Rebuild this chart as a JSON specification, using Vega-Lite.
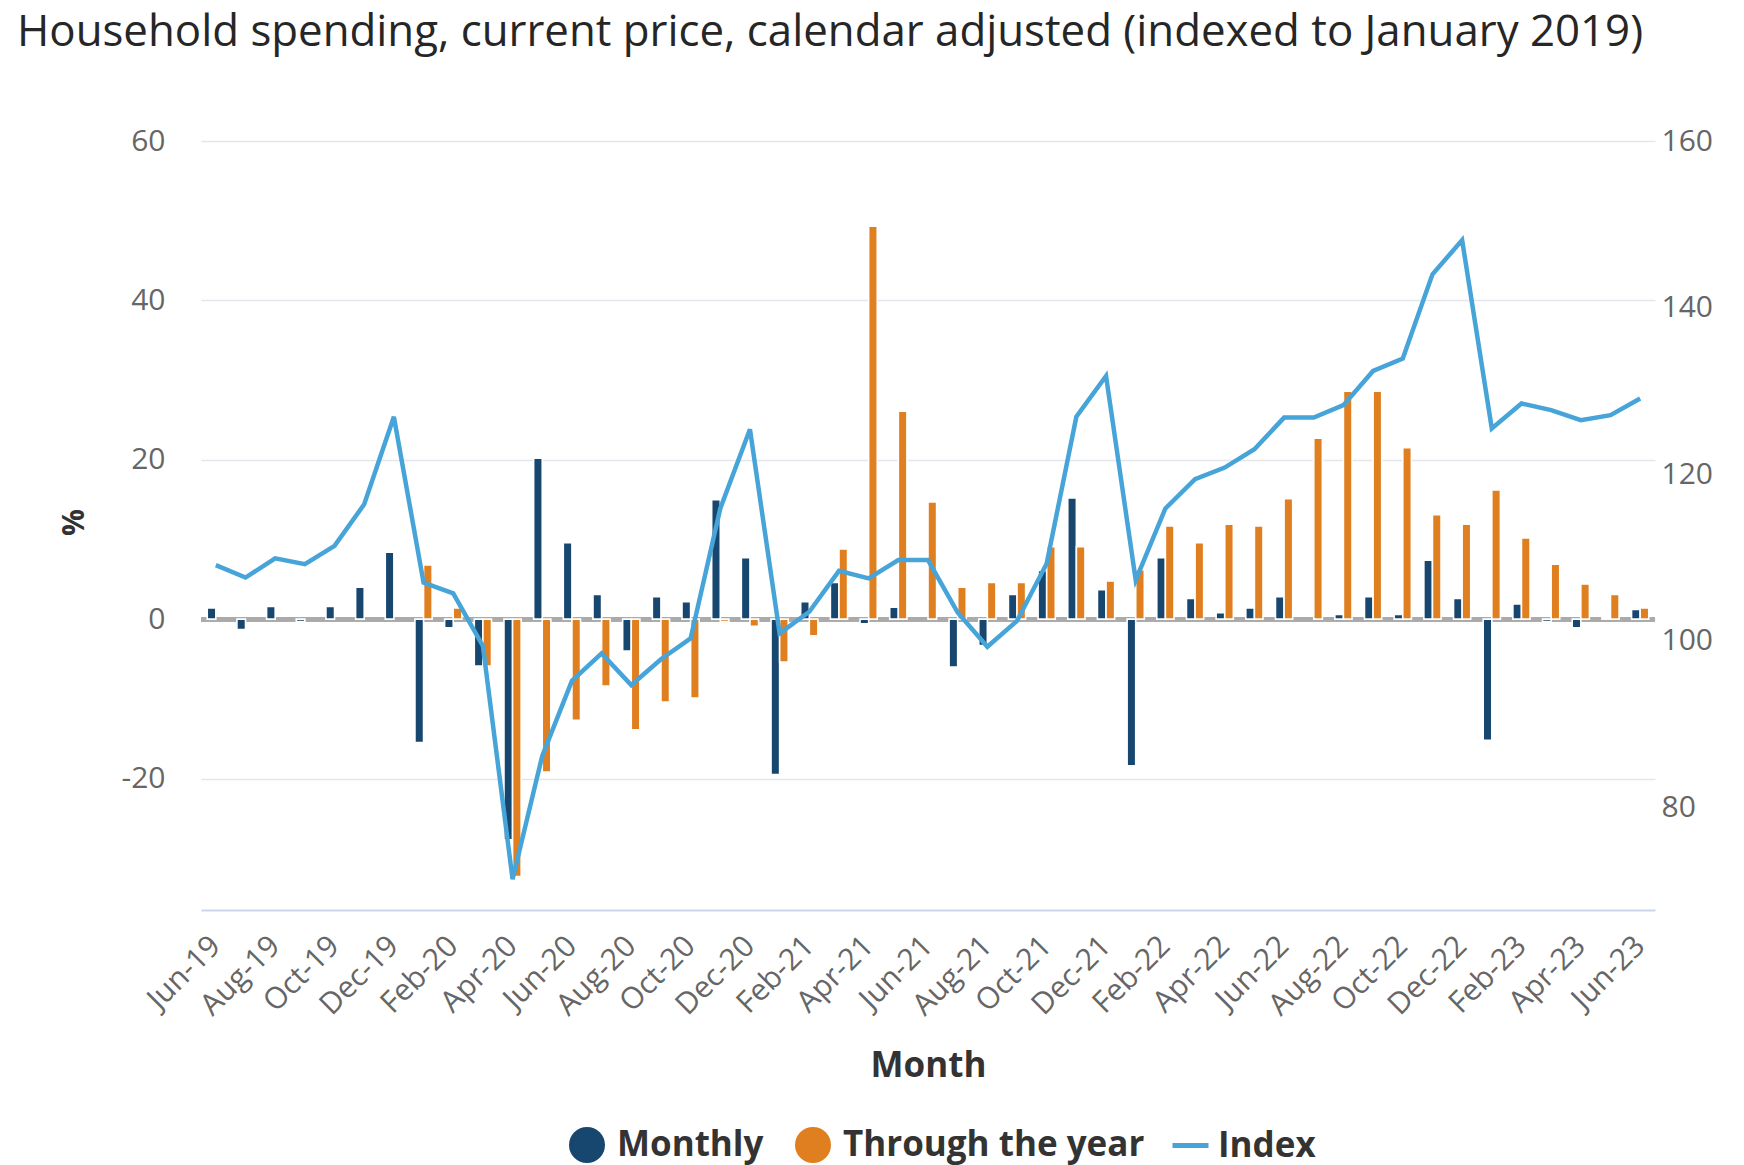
{
  "$schema": "https://vega.github.io/schema/vega-lite/v6.json",
  "autosize": {"type": "none"},
  "padding": {"left": 201, "top": 141, "right": 89, "bottom": 255},
  "width": 1454,
  "height": 769,
  "background": "white",
  "config": {"font": "Open Sans", "view": {"stroke": null}},
  "title": {
    "text": "Household spending, current price, calendar adjusted (indexed to January 2019)",
    "anchor": "start",
    "frame": "group",
    "dx": -184,
    "offset": 71,
    "font": "Open Sans",
    "fontSize": 43.8,
    "fontWeight": "normal",
    "color": "#262626"
  },
  "datasets": {
    "bars": [
      {"month": "Jun-19", "series": "Monthly", "value": 1.4},
      {"month": "Jul-19", "series": "Monthly", "value": -1.3},
      {"month": "Aug-19", "series": "Monthly", "value": 1.6},
      {"month": "Sep-19", "series": "Monthly", "value": -0.3},
      {"month": "Oct-19", "series": "Monthly", "value": 1.6},
      {"month": "Nov-19", "series": "Monthly", "value": 4.0},
      {"month": "Dec-19", "series": "Monthly", "value": 8.4},
      {"month": "Jan-20", "series": "Monthly", "value": -15.5},
      {"month": "Feb-20", "series": "Monthly", "value": -1.1},
      {"month": "Mar-20", "series": "Monthly", "value": -5.9},
      {"month": "Apr-20", "series": "Monthly", "value": -27.7},
      {"month": "May-20", "series": "Monthly", "value": 20.2},
      {"month": "Jun-20", "series": "Monthly", "value": 9.6},
      {"month": "Jul-20", "series": "Monthly", "value": 3.1},
      {"month": "Aug-20", "series": "Monthly", "value": -4.0},
      {"month": "Sep-20", "series": "Monthly", "value": 2.8},
      {"month": "Oct-20", "series": "Monthly", "value": 2.2},
      {"month": "Nov-20", "series": "Monthly", "value": 15.0},
      {"month": "Dec-20", "series": "Monthly", "value": 7.7},
      {"month": "Jan-21", "series": "Monthly", "value": -19.5},
      {"month": "Feb-21", "series": "Monthly", "value": 2.2},
      {"month": "Mar-21", "series": "Monthly", "value": 4.6},
      {"month": "Apr-21", "series": "Monthly", "value": -0.6},
      {"month": "May-21", "series": "Monthly", "value": 1.5},
      {"month": "Jul-21", "series": "Monthly", "value": -6.0},
      {"month": "Aug-21", "series": "Monthly", "value": -3.3},
      {"month": "Sep-21", "series": "Monthly", "value": 3.1},
      {"month": "Oct-21", "series": "Monthly", "value": 6.1},
      {"month": "Nov-21", "series": "Monthly", "value": 15.2},
      {"month": "Dec-21", "series": "Monthly", "value": 3.7},
      {"month": "Jan-22", "series": "Monthly", "value": -18.4},
      {"month": "Feb-22", "series": "Monthly", "value": 7.7},
      {"month": "Mar-22", "series": "Monthly", "value": 2.6},
      {"month": "Apr-22", "series": "Monthly", "value": 0.8},
      {"month": "May-22", "series": "Monthly", "value": 1.4},
      {"month": "Jun-22", "series": "Monthly", "value": 2.8},
      {"month": "Aug-22", "series": "Monthly", "value": 0.6},
      {"month": "Sep-22", "series": "Monthly", "value": 2.8},
      {"month": "Oct-22", "series": "Monthly", "value": 0.6},
      {"month": "Nov-22", "series": "Monthly", "value": 7.4},
      {"month": "Dec-22", "series": "Monthly", "value": 2.6},
      {"month": "Jan-23", "series": "Monthly", "value": -15.2},
      {"month": "Feb-23", "series": "Monthly", "value": 1.9},
      {"month": "Mar-23", "series": "Monthly", "value": -0.3},
      {"month": "Apr-23", "series": "Monthly", "value": -1.1},
      {"month": "May-23", "series": "Monthly", "value": 0.2},
      {"month": "Jun-23", "series": "Monthly", "value": 1.2},
      {"month": "Jan-20", "series": "Through the year", "value": 6.8},
      {"month": "Feb-20", "series": "Through the year", "value": 1.4},
      {"month": "Mar-20", "series": "Through the year", "value": -5.9},
      {"month": "Apr-20", "series": "Through the year", "value": -32.3},
      {"month": "May-20", "series": "Through the year", "value": -19.2},
      {"month": "Jun-20", "series": "Through the year", "value": -12.7},
      {"month": "Jul-20", "series": "Through the year", "value": -8.4},
      {"month": "Aug-20", "series": "Through the year", "value": -13.9},
      {"month": "Sep-20", "series": "Through the year", "value": -10.4},
      {"month": "Oct-20", "series": "Through the year", "value": -9.9},
      {"month": "Nov-20", "series": "Through the year", "value": -0.3},
      {"month": "Dec-20", "series": "Through the year", "value": -0.9},
      {"month": "Jan-21", "series": "Through the year", "value": -5.4},
      {"month": "Feb-21", "series": "Through the year", "value": -2.1},
      {"month": "Mar-21", "series": "Through the year", "value": 8.8},
      {"month": "Apr-21", "series": "Through the year", "value": 49.3},
      {"month": "May-21", "series": "Through the year", "value": 26.1},
      {"month": "Jun-21", "series": "Through the year", "value": 14.7},
      {"month": "Jul-21", "series": "Through the year", "value": 4.0},
      {"month": "Aug-21", "series": "Through the year", "value": 4.6},
      {"month": "Sep-21", "series": "Through the year", "value": 4.6},
      {"month": "Oct-21", "series": "Through the year", "value": 9.1},
      {"month": "Nov-21", "series": "Through the year", "value": 9.1},
      {"month": "Dec-21", "series": "Through the year", "value": 4.8},
      {"month": "Jan-22", "series": "Through the year", "value": 6.2},
      {"month": "Feb-22", "series": "Through the year", "value": 11.7},
      {"month": "Mar-22", "series": "Through the year", "value": 9.6},
      {"month": "Apr-22", "series": "Through the year", "value": 11.9},
      {"month": "May-22", "series": "Through the year", "value": 11.7},
      {"month": "Jun-22", "series": "Through the year", "value": 15.1},
      {"month": "Jul-22", "series": "Through the year", "value": 22.7},
      {"month": "Aug-22", "series": "Through the year", "value": 28.6},
      {"month": "Sep-22", "series": "Through the year", "value": 28.6},
      {"month": "Oct-22", "series": "Through the year", "value": 21.5},
      {"month": "Nov-22", "series": "Through the year", "value": 13.1},
      {"month": "Dec-22", "series": "Through the year", "value": 11.9},
      {"month": "Jan-23", "series": "Through the year", "value": 16.2},
      {"month": "Feb-23", "series": "Through the year", "value": 10.2},
      {"month": "Mar-23", "series": "Through the year", "value": 6.9},
      {"month": "Apr-23", "series": "Through the year", "value": 4.4},
      {"month": "May-23", "series": "Through the year", "value": 3.1},
      {"month": "Jun-23", "series": "Through the year", "value": 1.4}
    ],
    "index": [
      {"month": "Jun-19", "value": 109.1},
      {"month": "Jul-19", "value": 107.6},
      {"month": "Aug-19", "value": 109.9},
      {"month": "Sep-19", "value": 109.2},
      {"month": "Oct-19", "value": 111.4},
      {"month": "Nov-19", "value": 116.4},
      {"month": "Dec-19", "value": 126.9},
      {"month": "Jan-20", "value": 107.0},
      {"month": "Feb-20", "value": 105.7},
      {"month": "Mar-20", "value": 99.4},
      {"month": "Apr-20", "value": 71.4},
      {"month": "May-20", "value": 86.2},
      {"month": "Jun-20", "value": 95.2},
      {"month": "Jul-20", "value": 98.5},
      {"month": "Aug-20", "value": 94.7},
      {"month": "Sep-20", "value": 97.8},
      {"month": "Oct-20", "value": 100.3},
      {"month": "Nov-20", "value": 115.9},
      {"month": "Dec-20", "value": 125.4},
      {"month": "Jan-21", "value": 100.9},
      {"month": "Feb-21", "value": 103.5},
      {"month": "Mar-21", "value": 108.4},
      {"month": "Apr-21", "value": 107.5},
      {"month": "May-21", "value": 109.7},
      {"month": "Jun-21", "value": 109.7},
      {"month": "Jul-21", "value": 103.4},
      {"month": "Aug-21", "value": 99.3},
      {"month": "Sep-21", "value": 102.4},
      {"month": "Oct-21", "value": 109.3},
      {"month": "Nov-21", "value": 126.9},
      {"month": "Dec-21", "value": 131.8},
      {"month": "Jan-22", "value": 107.3},
      {"month": "Feb-22", "value": 115.9},
      {"month": "Mar-22", "value": 119.4},
      {"month": "Apr-22", "value": 120.8},
      {"month": "May-22", "value": 123.0},
      {"month": "Jun-22", "value": 126.8},
      {"month": "Jul-22", "value": 126.8},
      {"month": "Aug-22", "value": 128.3},
      {"month": "Sep-22", "value": 132.4},
      {"month": "Oct-22", "value": 133.9},
      {"month": "Nov-22", "value": 144.0},
      {"month": "Dec-22", "value": 148.1},
      {"month": "Jan-23", "value": 125.5},
      {"month": "Feb-23", "value": 128.5},
      {"month": "Mar-23", "value": 127.7},
      {"month": "Apr-23", "value": 126.5},
      {"month": "May-23", "value": 127.1},
      {"month": "Jun-23", "value": 129.1}
    ]
  },
  "layer": [
    {
      "data": {"name": "bars"},
      "mark": {"type": "rule", "color": "#aaaaaa", "strokeWidth": 4},
      "encoding": {
        "y": {"datum": 0, "type": "quantitative", "scale": {"domain": [-36.5, 60], "nice": false, "zero": false}, "axis": null}
      }
    },
    {
      "data": {"name": "bars"},
      "mark": {"type": "bar", "stroke": "white", "strokeWidth": 1.6, "opacity": 1},
      "encoding": {
        "x": {
          "field": "month",
          "type": "nominal",
          "scale": {
            "domain": ["Jun-19","Jul-19","Aug-19","Sep-19","Oct-19","Nov-19","Dec-19","Jan-20","Feb-20","Mar-20","Apr-20","May-20","Jun-20","Jul-20","Aug-20","Sep-20","Oct-20","Nov-20","Dec-20","Jan-21","Feb-21","Mar-21","Apr-21","May-21","Jun-21","Jul-21","Aug-21","Sep-21","Oct-21","Nov-21","Dec-21","Jan-22","Feb-22","Mar-22","Apr-22","May-22","Jun-22","Jul-22","Aug-22","Sep-22","Oct-22","Nov-22","Dec-22","Jan-23","Feb-23","Mar-23","Apr-23","May-23","Jun-23"],
            "paddingInner": 0.42,
            "paddingOuter": 0.21
          },
          "axis": {
            "title": "Month",
            "values": ["Jun-19","Aug-19","Oct-19","Dec-19","Feb-20","Apr-20","Jun-20","Aug-20","Oct-20","Dec-20","Feb-21","Apr-21","Jun-21","Aug-21","Oct-21","Dec-21","Feb-22","Apr-22","Jun-22","Aug-22","Oct-22","Dec-22","Feb-23","Apr-23","Jun-23"],
            "labelAngle": -45,
            "labelAlign": "right",
            "labelBaseline": "middle",
            "labelFont": "Open Sans",
            "labelFontSize": 30,
            "labelColor": "#666666",
            "labelPadding": 31,
            "labelOverlap": false,
            "ticks": false,
            "tickSize": 0,
            "domain": true,
            "domainColor": "#ccd6eb",
            "domainWidth": 2,
            "grid": false,
            "titleFont": "Open Sans",
            "titleFontSize": 35,
            "titleFontWeight": "bold",
            "titleColor": "#333333",
            "titleBaseline": "alphabetic",
            "titleY": 166
          }
        },
        "xOffset": {
          "field": "series",
          "type": "nominal",
          "scale": {"domain": ["Monthly", "Through the year"], "paddingInner": 0, "paddingOuter": 0}
        },
        "y": {
          "field": "value",
          "type": "quantitative",
          "scale": {"domain": [-36.5, 60], "nice": false, "zero": false},
          "axis": {
            "title": "%",
            "orient": "left",
            "values": [-20, 0, 20, 40, 60],
            "labelExpr": "'' + datum.value",
            "labelFont": "Open Sans",
            "labelFontSize": 30,
            "labelColor": "#666666",
            "labelPadding": 36,
            "labelDy": 2,
            "ticks": false,
            "tickSize": 0,
            "domain": false,
            "grid": true,
            "gridColor": "#e3e6ea",
            "gridWidth": 1.5,
            "titleFont": "Open Sans",
            "titleFontSize": 30,
            "titleFontWeight": "bold",
            "titleColor": "#333333",
            "titleAngle": -90,
            "titleAlign": "center",
            "titleBaseline": "middle",
            "titleX": -127,
            "titleY": 381
          }
        },
        "color": {
          "field": "series",
          "type": "nominal",
          "scale": {
            "domain": ["Monthly", "Through the year"],
            "range": ["#17466e", "#e07f1f"]
          },
          "legend": {
            "orient": "none",
            "legendX": 368,
            "legendY": 986,
            "direction": "horizontal",
            "title": null,
            "padding": 0,
            "labelFont": "Open Sans",
            "labelFontSize": 35,
            "labelFontWeight": "bold",
            "labelColor": "#333333",
            "labelLimit": 600,
            "labelOffset": 12,
            "columnPadding": 31,
            "symbolType": "circle",
            "symbolSize": 1296,
            "symbolStrokeWidth": 0
          }
        }
      }
    },
    {
      "data": {"name": "index"},
      "mark": {"type": "line", "strokeWidth": 4.5, "strokeJoin": "miter"},
      "encoding": {
        "x": {
          "field": "month",
          "type": "nominal",
          "scale": {
            "domain": ["Jun-19","Jul-19","Aug-19","Sep-19","Oct-19","Nov-19","Dec-19","Jan-20","Feb-20","Mar-20","Apr-20","May-20","Jun-20","Jul-20","Aug-20","Sep-20","Oct-20","Nov-20","Dec-20","Jan-21","Feb-21","Mar-21","Apr-21","May-21","Jun-21","Jul-21","Aug-21","Sep-21","Oct-21","Nov-21","Dec-21","Jan-22","Feb-22","Mar-22","Apr-22","May-22","Jun-22","Jul-22","Aug-22","Sep-22","Oct-22","Nov-22","Dec-22","Jan-23","Feb-23","Mar-23","Apr-23","May-23","Jun-23"],
            "paddingInner": 0.42,
            "paddingOuter": 0.21
          },
          "axis": {
            "title": "Month",
            "values": ["Jun-19","Aug-19","Oct-19","Dec-19","Feb-20","Apr-20","Jun-20","Aug-20","Oct-20","Dec-20","Feb-21","Apr-21","Jun-21","Aug-21","Oct-21","Dec-21","Feb-22","Apr-22","Jun-22","Aug-22","Oct-22","Dec-22","Feb-23","Apr-23","Jun-23"],
            "labelAngle": -45,
            "labelAlign": "right",
            "labelBaseline": "middle",
            "labelFont": "Open Sans",
            "labelFontSize": 30,
            "labelColor": "#666666",
            "labelPadding": 31,
            "labelOverlap": false,
            "ticks": false,
            "tickSize": 0,
            "domain": true,
            "domainColor": "#ccd6eb",
            "domainWidth": 2,
            "grid": false,
            "titleFont": "Open Sans",
            "titleFontSize": 35,
            "titleFontWeight": "bold",
            "titleColor": "#333333",
            "titleBaseline": "alphabetic",
            "titleY": 166
          }
        },
        "y": {
          "field": "value",
          "type": "quantitative",
          "scale": {"domain": [67.7, 160], "nice": false, "zero": false},
          "axis": {
            "title": null,
            "orient": "right",
            "values": [80, 100, 120, 140, 160],
            "labelFont": "Open Sans",
            "labelFontSize": 30,
            "labelColor": "#666666",
            "labelPadding": 6,
            "labelDy": 3,
            "ticks": false,
            "tickSize": 0,
            "domain": false,
            "grid": false
          }
        },
        "stroke": {
          "datum": "Index",
          "type": "nominal",
          "scale": {"domain": ["Index"], "range": ["#46a4d9"]},
          "legend": {
            "orient": "none",
            "legendX": 969,
            "legendY": 984,
            "direction": "horizontal",
            "title": null,
            "padding": 0,
            "labelFont": "Open Sans",
            "labelFontSize": 35,
            "labelFontWeight": "bold",
            "labelColor": "#333333",
            "labelLimit": 600,
            "labelOffset": 7,
            "symbolType": "stroke",
            "symbolSize": 1296,
            "symbolStrokeWidth": 5
          }
        }
      }
    }
  ],
  "resolve": {"scale": {"y": "independent"}, "axis": {"y": "independent"}}
}
